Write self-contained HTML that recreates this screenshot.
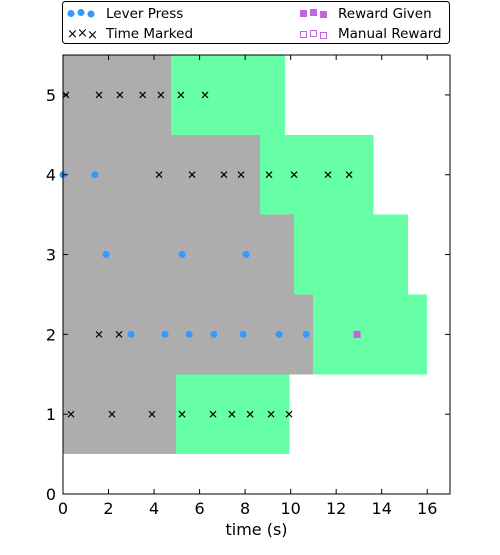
<!DOCTYPE html>
<html><head><meta charset="utf-8"><style>
body{margin:0;background:#fff;width:500px;height:550px;overflow:hidden}
text{font-family:"DejaVu Sans","Liberation Sans",sans-serif}
</style></head><body>
<svg id="chart" width="500" height="550" xmlns="http://www.w3.org/2000/svg">
<g id="plot"></g>
<g id="legend">
<rect x="62.5" y="1.5" width="387" height="42" rx="3" fill="#fff" stroke="#000" stroke-width="1"/>
<circle cx="71" cy="13.5" r="3.5" fill="#3399ff"/><circle cx="81" cy="12.5" r="3.5" fill="#3399ff"/><circle cx="91" cy="14" r="3.5" fill="#3399ff"/>
<text x="106" y="18" font-size="13.5">Lever Press</text>
<text x="67" y="38" font-size="13">×</text><text x="77" y="37" font-size="13">×</text><text x="87" y="39" font-size="13">×</text>
<text x="106" y="38" font-size="13.5">Time Marked</text>
<rect x="300" y="10" width="7" height="7" fill="#c066d8"/><rect x="310" y="9" width="7" height="7" fill="#c066d8"/><rect x="320" y="11" width="7" height="7" fill="#c066d8"/>
<text x="338" y="18" font-size="13.5">Reward Given</text>
<rect x="300.5" y="31.5" width="6" height="6" fill="none" stroke="#c066d8"/><rect x="310.5" y="30.5" width="6" height="6" fill="none" stroke="#c066d8"/><rect x="320.5" y="32.5" width="6" height="6" fill="none" stroke="#c066d8"/>
<text x="338" y="38" font-size="13.5">Manual Reward</text>
</g>
</svg>
<script>
const trials=[1,2,3,4,5];
const trialEnd=[4.96,10.98,10.15,8.65,4.75];
const rewardWindow=[5,5,5,5,5];
const pressTrials=[4,4,3,3,3,2,2,2,2,2,2,2];
const pressTimes=[0,1.4,1.89,5.23,8.04,2.99,4.48,5.54,6.63,7.91,9.49,10.68];
const markTrials=[5,5,5,5,5,5,5,4,4,4,4,4,4,4,4,2,2,1,1,1,1,1,1,1,1,1];
const markTimes=[0.13,1.58,2.5,3.5,4.3,5.18,6.24,4.22,5.67,7.07,7.82,9.05,10.15,11.64,12.57,1.58,2.46,0.35,2.15,3.91,5.23,6.59,7.42,8.22,9.14,9.93];
const rewardTrials=[2];
const rewardTimes=[12.92];
const xTicks=[0,2,4,6,8,10,12,14,16];
const yTicks=[0,1,2,3,4,5];
const L=63,R=450,T=55,B=494,xMax=17,yMax=5.5;
const X=v=>L+v*(R-L)/xMax, Y=v=>B-v*(B-T)/yMax;
const NS="http://www.w3.org/2000/svg";
const plot=document.getElementById('plot');
function mk(tag,a,parent){const e=document.createElementNS(NS,tag);for(const k in a)e.setAttribute(k,a[k]);(parent||plot).appendChild(e);return e;}
trials.forEach((t,i)=>{
 const g=mk('rect',{x:X(0),y:Y(t+0.5),width:X(trialEnd[i])-X(0),height:Y(t-0.5)-Y(t+0.5),fill:'#adadad','shape-rendering':'crispEdges'});
 
 
 const r=mk('rect',{x:X(trialEnd[i]),y:Y(t+0.5),width:X(trialEnd[i]+rewardWindow[i])-X(trialEnd[i]),height:Y(t-0.5)-Y(t+0.5),fill:'#66ffa6','shape-rendering':'crispEdges'});
 
 
});
pressTimes.forEach((v,i)=>{
 const c=mk('circle',{cx:X(v),cy:Y(pressTrials[i]),r:3.5,fill:'#3399ff'});
 
 
});
markTimes.forEach((v,i)=>{
 const x=X(v),y=Y(markTrials[i]),s=3;
 const p=mk('path',{d:`M${x-s},${y-s}L${x+s},${y+s}M${x-s},${y+s}L${x+s},${y-s}`,stroke:'#000','stroke-width':1.2});
 
 
});
rewardTimes.forEach((v,i)=>{
 const q=mk('rect',{x:X(v)-3.5,y:Y(rewardTrials[i])-3.5,width:7,height:7,fill:'#c066d8'});
 
 
});
const frame=mk('rect',{x:L,y:T,width:R-L,height:B-T,fill:'none',stroke:'#000','stroke-width':1});


xTicks.forEach(v=>{
 const x=X(v);
 mk('line',{x1:x,y1:B,x2:x,y2:B-5,stroke:'#000'});mk('line',{x1:x,y1:T,x2:x,y2:T+5,stroke:'#000'});
 const t=mk('text',{x:x,y:B+20,'font-size':16,'text-anchor':'middle'});t.textContent=v;
 
 
});
yTicks.forEach(v=>{
 const y=Y(v);
 mk('line',{x1:L,y1:y,x2:L+5,y2:y,stroke:'#000'});mk('line',{x1:R,y1:y,x2:R-5,y2:y,stroke:'#000'});
 const t=mk('text',{x:L-7,y:y+6,'font-size':16,'text-anchor':'end'});t.textContent=v;
 
 
});
const xt=mk('text',{x:(L+R)/2,y:535,'font-size':16,'text-anchor':'middle'});xt.textContent='time (s)';


</script>
</body></html>
